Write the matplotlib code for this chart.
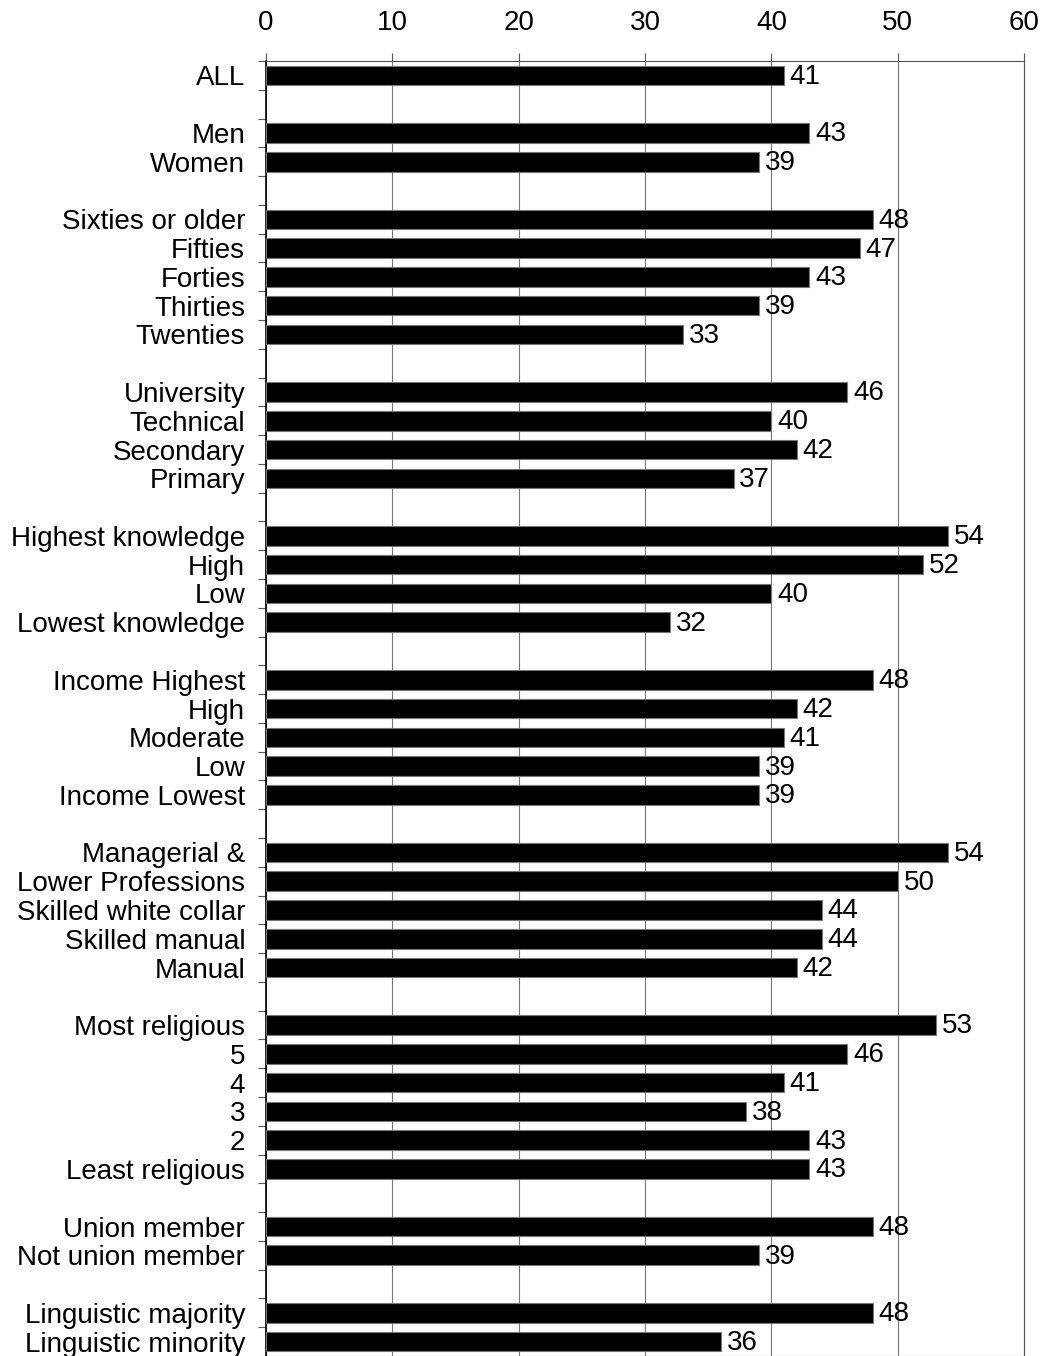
import matplotlib.pyplot as plt
import numpy as np

plt.rcParams['font.family'] = ['Liberation Sans', 'DejaVu Sans']

# groups of categories, separated by an empty row
groups = [
    ['ALL'],
    ['Men', 'Women'],
    ['Sixties or older', 'Fifties', 'Forties', 'Thirties', 'Twenties'],
    ['University', 'Technical', 'Secondary', 'Primary'],
    ['Highest knowledge', 'High', 'Low', 'Lowest knowledge'],
    ['Income Highest', 'High', 'Moderate', 'Low', 'Income Lowest'],
    ['Managerial &', 'Lower Professions', 'Skilled white collar', 'Skilled manual', 'Manual'],
    ['Most religious', '5', '4', '3', '2', 'Least religious'],
    ['Union member', 'Not union member'],
    ['Linguistic majority', 'Linguistic minority'],
]
values = [
    [41],
    [43, 39],
    [48, 47, 43, 39, 33],
    [46, 40, 42, 37],
    [54, 52, 40, 32],
    [48, 42, 41, 39, 39],
    [54, 50, 44, 44, 42],
    [53, 46, 41, 38, 43, 43],
    [48, 39],
    [48, 36],
]

labels = []
vals = []
pos = []
row = 0
for g, v in zip(groups, values):
    for lab, val in zip(g, v):
        labels.append(lab)
        vals.append(val)
        pos.append(row)
        row += 1
    row += 1
nrows = row - 1

fig = plt.figure(figsize=(10.43, 13.56), dpi=100)
ax = fig.add_axes([0.255, 0.0, 0.727, 0.955])

ax.barh(pos, vals, height=0.68, color='black', edgecolor='#777777', linewidth=0.8, zorder=3)
for p, v in zip(pos, vals):
    ax.text(v + 0.45, p + 0.05, str(v), va='center', ha='left', fontsize=20, zorder=4)

ax.set_xlim(0, 60)
ax.set_ylim(nrows - 0.5, -0.5)
ax.set_xticks(np.arange(0, 61, 10))
ax.xaxis.tick_top()
ax.tick_params(axis='x', labelsize=20, length=6, width=0.8, color='#555555', pad=12)
ax.grid(axis='x', color='#777777', linewidth=0.8, zorder=0)

ax.set_yticks(pos)
ax.set_yticklabels(labels)
ax.tick_params(axis='y', which='major', length=0, labelsize=20, pad=15)
ax.set_yticks(np.arange(-0.5, nrows, 1), minor=True)
ax.tick_params(axis='y', which='minor', length=6, width=0.8, color='#555555')

ax.spines['left'].set_color('black')
ax.spines['left'].set_linewidth(1.2)
for s in ['top', 'right', 'bottom']:
    ax.spines[s].set_color('#555555')
    ax.spines[s].set_linewidth(0.8)

fig.savefig('out.png', dpi=100)
